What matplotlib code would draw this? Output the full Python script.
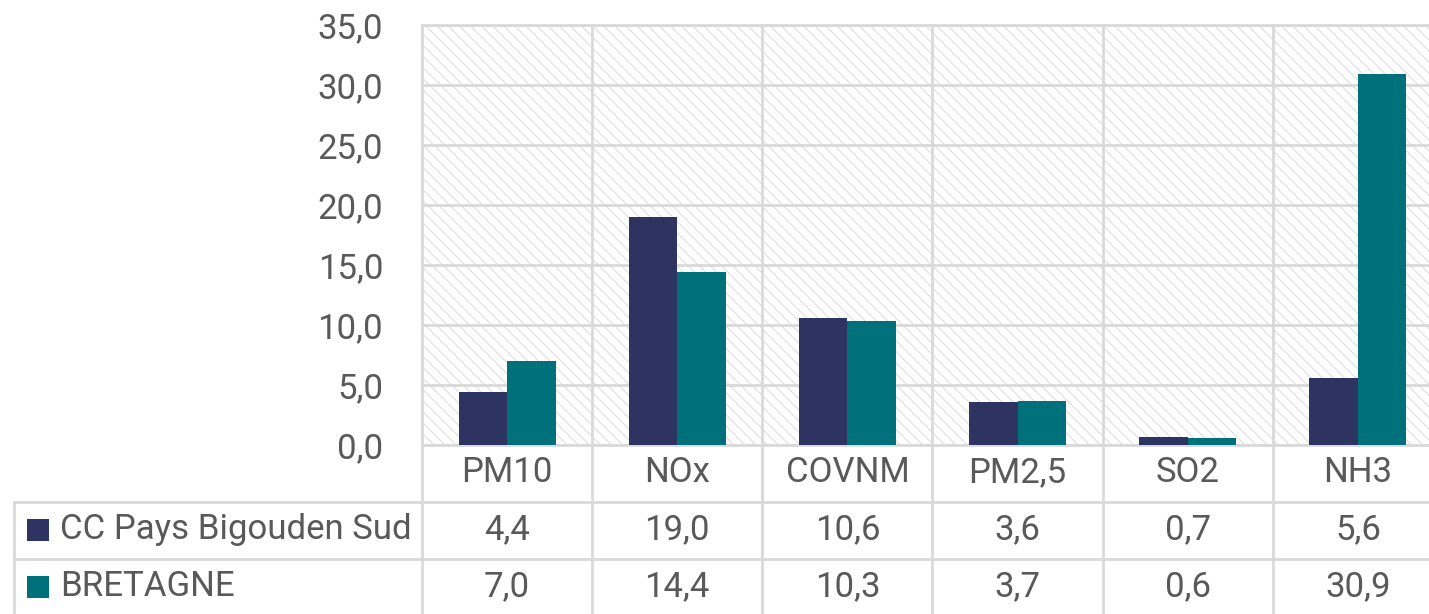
import matplotlib
matplotlib.use("Agg")
import matplotlib.pyplot as plt
from matplotlib.patches import Rectangle
from matplotlib.transforms import blended_transform_factory

pollutants = ["PM10", "NOx", "COVNM", "PM2,5", "SO2", "NH3"]
series_names = ["CC Pays Bigouden Sud", "BRETAGNE"]
cc_values = [4.4, 19.0, 10.6, 3.6, 0.7, 5.6]
bretagne_values = [7.0, 14.4, 10.3, 3.7, 0.6, 30.9]
y_ticks = [0, 5, 10, 15, 20, 25, 30, 35]

colors = ["#2E3462", "#00707A"]
grid_color = "#D9D9D9"
text_color = "#595959"

plt.rcParams["font.family"] = ["Roboto", "DejaVu Sans"]
plt.rcParams["hatch.linewidth"] = 0.8

W, H = 1429, 614
FS = 25
fig = plt.figure(figsize=(W / 100, H / 100), dpi=100)

# plot area in pixel terms
left_px, right_px, top_px, base_px = 422, 1443, 25, 445
ax = fig.add_axes([left_px / W, 1 - base_px / H, (right_px - left_px) / W, (base_px - top_px) / H])

n = len(pollutants)
ax.add_patch(Rectangle((-0.5, 0), n, 35, facecolor="white", edgecolor="#DEDEDE", linewidth=0,
                       hatch="\\\\\\", zorder=0))

bw = 0.285
xs = list(range(n))
ax.bar([x - bw / 2 for x in xs], cc_values, bw, color=colors[0], zorder=3)
ax.bar([x + bw / 2 for x in xs], bretagne_values, bw, color=colors[1], zorder=3)

ax.set_xlim(-0.5, n - 0.5)
ax.set_ylim(0, 35)
ax.set_yticks(y_ticks)
ax.set_yticklabels([f"{v:.1f}".replace(".", ",") for v in y_ticks])
ax.set_xticks([])
ax.tick_params(axis="y", length=0, pad=28, labelsize=FS, labelcolor=text_color)
for y in y_ticks:
    ax.axhline(y, color=grid_color, lw=2, zorder=1)
for s in ax.spines.values():
    s.set_color(grid_color)
    s.set_linewidth(2)
ax.spines["right"].set_visible(False)

# data table below the plot
tr = blended_transform_factory(ax.transData, fig.transFigure)
line_kw = dict(color=grid_color, lw=2, transform=tr, clip_on=False)

def fy(px):
    return 1 - px / H

label_left = -0.5 - (left_px - 14) / 170.0
for ry in [502, 559]:
    fig.add_artist(plt.Line2D([label_left, n - 0.5], [fy(ry), fy(ry)], **line_kw))
fig.add_artist(plt.Line2D([label_left, label_left], [fy(502), 0], **line_kw))
fig.add_artist(plt.Line2D([-0.5, -0.5], [fy(base_px), 0], **line_kw))
for i in range(1, n):
    fig.add_artist(plt.Line2D([i - 0.5, i - 0.5], [fy(top_px), 0], **line_kw))

txt_kw = dict(transform=tr, ha="center", va="center", fontsize=FS, color=text_color)
for i, p in enumerate(pollutants):
    fig.text(i, fy(473), p, **txt_kw)
row_centers = [530, 587]
for vals, cy in zip([cc_values, bretagne_values], row_centers):
    for i, v in enumerate(vals):
        fig.text(i, fy(cy), f"{v:.1f}".replace(".", ","), **txt_kw)

for name, col, cy in zip(series_names, colors, row_centers):
    fig.add_artist(Rectangle((27 / W, fy(cy + 11)), 22 / W, 22 / H, facecolor=col,
                             edgecolor="none", transform=fig.transFigure))
    fig.text(60 / W, fy(cy), name, ha="left", va="center", fontsize=FS, color=text_color)

fig.savefig("out.png", dpi=100)
